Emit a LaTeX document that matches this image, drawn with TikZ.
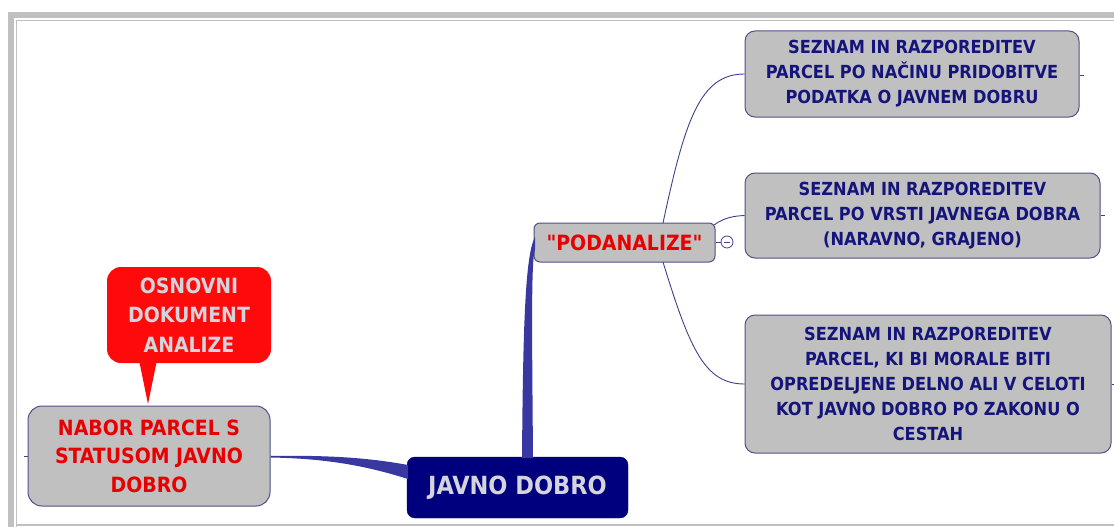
\documentclass[tikz,border=0pt]{standalone}
\usepackage{fontspec}
\setmainfont{DejaVu Sans Condensed}
\newfontfamily\plainquote[Ligatures=Common]{DejaVu Sans Condensed}
\definecolor{boxgray}{HTML}{C0C0C0}
\definecolor{boxedge}{HTML}{50508A}
\definecolor{navytext}{HTML}{14147A}
\definecolor{redtext}{HTML}{E80000}
\definecolor{linkblue}{HTML}{3838A0}
\definecolor{thinlink}{HTML}{40408A}
\definecolor{framegray}{HTML}{C0C0C0}
\definecolor{navyfill}{HTML}{00007E}
\definecolor{lighttext}{HTML}{D4D4DC}
\definecolor{calloutred}{HTML}{FF0A0A}
\tikzset{
  topicbox/.style={draw=boxedge, line width=1pt, fill=boxgray, rounded corners=10pt, align=center, inner sep=0pt},
  subtext/.style={font=\bfseries\fontsize{18}{25}\selectfont, text=navytext},
  thinline/.style={draw=thinlink, line width=0.9pt},
  stub/.style={draw=thinlink, line width=0.8pt}
}
\begin{document}
\begin{tikzpicture}[x=1pt,y=-1pt]
\useasboundingbox (0,0) rectangle (1114,527);
% frame
\fill[framegray] (8,12) rectangle (1114,18);
\fill[framegray] (8,12) rectangle (14,527);
\draw[framegray, line width=1.5pt] (16.5,527) -- (16.5,20.5) -- (1114,20.5);
\draw[framegray, line width=1.5pt] (16.5,525) -- (1114,525);

% nodes
\node[topicbox, minimum width=334pt, minimum height=86pt, subtext] (s1) at (912,74)
  {SEZNAM IN RAZPOREDITEV\\PARCEL PO NAČINU PRIDOBITVE\\PODATKA O JAVNEM DOBRU};
\node[topicbox, minimum width=355pt, minimum height=85pt, subtext] (s2) at (922.5,215.5)
  {SEZNAM IN RAZPOREDITEV\\PARCEL PO VRSTI JAVNEGA DOBRA\\(NARAVNO, GRAJENO)};
\node[topicbox, minimum width=366pt, minimum height=138pt, subtext] (s3) at (928,384)
  {SEZNAM IN RAZPOREDITEV\\PARCEL, KI BI MORALE BITI\\OPREDELJENE DELNO ALI V CELOTI\\KOT JAVNO DOBRO PO ZAKONU O\\CESTAH};
\node[topicbox, rounded corners=6pt, minimum width=181pt, minimum height=39pt,
  font=\plainquote\bfseries\fontsize{21}{25}\selectfont, text=redtext] (pod) at (624.5,242.5) {"PODANALIZE"};
\node[draw=navyfill, fill=navyfill, rounded corners=8pt, minimum width=221pt, minimum height=61pt,
  inner sep=0pt, font=\bfseries\fontsize{25}{28}\selectfont, text=lighttext] (jd) at (517.5,487.5) {JAVNO DOBRO};
\node[topicbox, rounded corners=14pt, minimum width=242pt, minimum height=100pt,
  font=\bfseries\fontsize{21}{28.5}\selectfont, text=redtext] (nab) at (149,456)
  {NABOR PARCEL S\\STATUSOM JAVNO\\DOBRO};
\node[fill=calloutred, rounded corners=14pt, minimum width=164pt, minimum height=96pt, inner sep=0pt,
  align=center, font=\bfseries\fontsize{21}{29.5}\selectfont, text=lighttext] (osn) at (189,315)
  {OSNOVNI\\DOKUMENT\\ANALIZE};
% callout pointer
\coordinate (tip) at (148,404);
\fill[calloutred] (139,360) -- (tip) -- (157,360) -- cycle;

% thick connectors
\fill[linkblue] (nab.east) .. controls (330,455) and (370,458) .. (408,465)
  -- (408,479) .. controls (370,467) and (330,458.5) .. ([yshift=-1.5pt]nab.east) -- cycle;
\fill[linkblue] (522,458) .. controls (523,330) and (525,255) .. (535,237)
  -- (535,249) .. controls (531,262) and (532,330) .. (533,458) -- cycle;

% thin connectors
\draw[thinline] (663,223) .. controls (685,120) and (700,74) .. (s1.west);
\draw[thinline] (714,225) .. controls (725,217) and (735,216) .. (s2.west);
\draw[thinline] (663,262) .. controls (690,350) and (705,384) .. (s3.west);

% collapse marker
\coordinate (cm) at (727,242);
\draw[thinlink, line width=0.8pt] (pod.east) -- ++(6,0);
\draw[thinlink, line width=0.8pt, fill=white] (cm) circle (6pt);
\draw[thinlink, line width=1pt] ([xshift=-3pt]cm) -- ([xshift=3pt]cm);

% stubs
\draw[stub] (nab.west) -- ++(-4,0);
\draw[stub] ([yshift=-1pt]s1.east) -- ++(4,0);
\draw[stub] (s2.east) -- ++(4,0);
\draw[stub] (s3.east) -- ++(3,0);
\end{tikzpicture}
\end{document}
